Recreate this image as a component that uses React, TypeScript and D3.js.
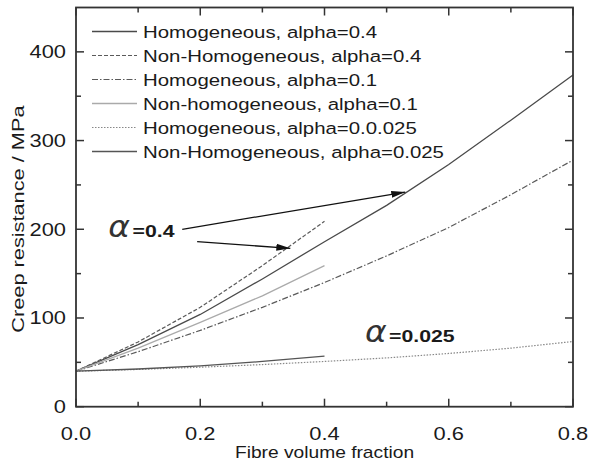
import React from "react";
import * as d3 from "d3";

const xs = [0, 0.1, 0.2, 0.3, 0.4, 0.5, 0.6, 0.7, 0.8];
const xsShort = [0, 0.1, 0.2, 0.3, 0.4];
const homAlpha04 = [40, 70, 104, 144, 186, 227, 273, 323, 374];
const nonHomAlpha04 = [40, 73, 112, 159, 209];
const homAlpha01 = [40, 62, 86, 112, 140, 170, 202, 239, 278];
const nonHomAlpha01 = [40, 66, 95, 125, 159];
const homAlpha0025 = [40, 42, 44.5, 47.5, 51, 55, 60, 66, 73.5];
const nonHomAlpha0025 = [40, 42.5, 46, 51, 57];

const xTicks = [0, 0.2, 0.4, 0.6, 0.8];
const xMinor = [0.1, 0.3, 0.5, 0.7];
const yTicks = [0, 100, 200, 300, 400];
const yMinor = [50, 150, 250, 350];

const legendLabels = [
  "Homogeneous, alpha=0.4",
  "Non-Homogeneous, alpha=0.4",
  "Homogeneous, alpha=0.1",
  "Non-homogeneous, alpha=0.1",
  "Homogeneous, alpha=0.0.025",
  "Non-Homogeneous, alpha=0.025",
];

const W = 589;
const H = 462;
const L = 76, R = 573, T = 7.5, B = 406.7;
const SX = 1.2;
const FONT = "'Liberation Sans', Arial, sans-serif";

export default function App() {
  const x = d3.scaleLinear().domain([0, 0.8]).range([L, R]);
  const y = d3.scaleLinear().domain([0, 450]).range([B, T]);
  const line = d3.line<[number, number]>().x(d => x(d[0])).y(d => y(d[1]));
  const mk = (xv: number[], yv: number[]) => line(xv.map((v, i) => [v, yv[i]] as [number, number])) || "";

  const series = [
    { d: mk(xs, homAlpha04), stroke: "#4a4a4a", dash: "", w: 1.3 },
    { d: mk(xsShort, nonHomAlpha04), stroke: "#5a5a5a", dash: "4,2", w: 1.2 },
    { d: mk(xs, homAlpha01), stroke: "#5a5a5a", dash: "6,2,1.5,2", w: 1.2 },
    { d: mk(xsShort, nonHomAlpha01), stroke: "#aaaaaa", dash: "", w: 1.3 },
    { d: mk(xs, homAlpha0025), stroke: "#888888", dash: "1.5,1.5", w: 1.2 },
    { d: mk(xsShort, nonHomAlpha0025), stroke: "#555555", dash: "", w: 1.3 },
  ];

  const txt = (tx: number, ty: number, s: string, anchor: string, size = 17, weight = "normal", sx = SX) => (
    <text transform={`translate(${tx},${ty}) scale(${sx},1)`} textAnchor={anchor as any}
      fontSize={size} fontWeight={weight} fontFamily={FONT} fill="#1a1a1a">{s}</text>
  );

  const arrow1 = { x1: 0.171, y1: 200, x2: 0.53, y2: 242 };
  const arrow2 = { x1: 0.195, y1: 186, x2: 0.345, y2: 178.5 };

  return (
    <svg width={W} height={H} style={{ position: "absolute", left: 0, top: 0, background: "#fff" }}>
      <defs>
        <marker id="ah" viewBox="0 0 14 8" refX="14" refY="4" markerWidth="14" markerHeight="8" markerUnits="userSpaceOnUse" orient="auto">
          <path d="M0,0.5 L14,4 L0,7.5 z" fill="#111" />
        </marker>
      </defs>
      <rect x={0} y={0} width={W} height={H} fill="#fff" />
      {series.map((s, i) => (
        <path key={i} d={s.d} fill="none" stroke={s.stroke} strokeWidth={s.w} strokeDasharray={s.dash || undefined} />
      ))}
      <rect x={L} y={T} width={R - L} height={B - T} fill="none" stroke="#333" strokeWidth={1.8} />
      {xTicks.map(t => (
        <g key={"xt" + t}>
          <line x1={x(t)} x2={x(t)} y1={B} y2={B - 8} stroke="#333" strokeWidth={1.5} />
          <line x1={x(t)} x2={x(t)} y1={T} y2={T + 8} stroke="#333" strokeWidth={1.5} />
          {txt(x(t), B + 33, d3.format(".1f")(t), "middle", 17.5, "normal", 1.25)}
        </g>
      ))}
      {xMinor.map(t => (
        <g key={"xm" + t}>
          <line x1={x(t)} x2={x(t)} y1={B} y2={B - 5} stroke="#333" strokeWidth={1.5} />
          <line x1={x(t)} x2={x(t)} y1={T} y2={T + 5} stroke="#333" strokeWidth={1.5} />
        </g>
      ))}
      {yTicks.map(t => (
        <g key={"yt" + t}>
          <line x1={L} x2={L + 8} y1={y(t)} y2={y(t)} stroke="#333" strokeWidth={1.5} />
          <line x1={R} x2={R - 8} y1={y(t)} y2={y(t)} stroke="#333" strokeWidth={1.5} />
          {txt(L - 10, y(t) + 6.5, String(t), "end", 17.5, "normal", 1.25)}
        </g>
      ))}
      {yMinor.map(t => (
        <g key={"ym" + t}>
          <line x1={L} x2={L + 5} y1={y(t)} y2={y(t)} stroke="#333" strokeWidth={1.5} />
          <line x1={R} x2={R - 5} y1={y(t)} y2={y(t)} stroke="#333" strokeWidth={1.5} />
        </g>
      ))}
      {txt((L + R) / 2, 458, "Fibre volume fraction", "middle", 16, "normal", 1.2)}
      <text transform={`translate(24,${(T + B) / 2 + 12}) rotate(-90) scale(1.28,1)`} textAnchor="middle" fontSize={17}
        fontFamily={FONT} fill="#1a1a1a">Creep resistance / MPa</text>

      {legendLabels.map((lab, i) => {
        const ly = 31.5 + i * 24;
        const s = series[i];
        return (
          <g key={"lg" + i}>
            <line x1={92} x2={137} y1={ly} y2={ly} stroke={s.stroke} strokeWidth={s.w} strokeDasharray={s.dash || undefined} />
            {txt(143, ly + 6, lab, "start", 17)}
          </g>
        );
      })}

      <line x1={x(arrow1.x1)} y1={y(arrow1.y1)} x2={x(arrow1.x2)} y2={y(arrow1.y2)} stroke="#111" strokeWidth={1.3} markerEnd="url(#ah)" />
      <line x1={x(arrow2.x1)} y1={y(arrow2.y1)} x2={x(arrow2.x2)} y2={y(arrow2.y2)} stroke="#111" strokeWidth={1.3} markerEnd="url(#ah)" />
      <text transform={`translate(${x(0.052)},${y(191)}) scale(1.1,1)`} fontSize={30} fontStyle="italic" fontFamily="'DejaVu Sans', sans-serif" fontWeight={200} fill="#333">α</text>
      {txt(x(0.091), y(191), "=0.4", "start", 17, "bold", 1.25)}
      <text transform={`translate(${x(0.465)},${y(73)}) scale(1.1,1)`} fontSize={30} fontStyle="italic" fontFamily="'DejaVu Sans', sans-serif" fontWeight={200} fill="#333">α</text>
      {txt(x(0.504), y(73), "=0.025", "start", 17, "bold", 1.25)}
    </svg>
  );
}
